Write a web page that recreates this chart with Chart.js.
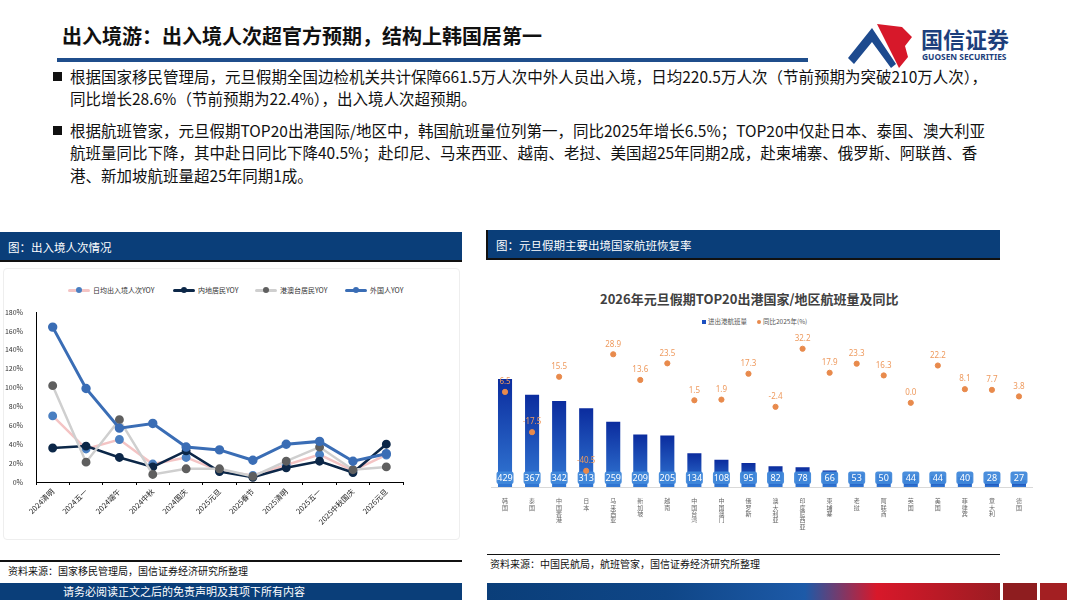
<!DOCTYPE html>
<html>
<head>
<meta charset="utf-8">
<script src="https://cdn.jsdelivr.net/npm/chart.js@4.4.1/dist/chart.umd.min.js"></script>
<style>
  body { margin: 0; background: #fff; }
  #page { position: relative; width: 1067px; height: 600px; overflow: hidden; font-family: "Noto Sans CJK SC", "Noto Sans", sans-serif; color: #111; }
  .abs { position: absolute; white-space: nowrap; }
  .title { left: 62px; top: 23px; font-size: 20px; font-weight: bold; line-height: 26px; }
  .bar-line { left: 57px; top: 58px; width: 751px; height: 4px; background: #1f4e8c; }
  .bullet { font-size: 15.5px; line-height: 22px; }
  .sq { left: 53px; width: 9px; height: 9px; background: #111; }
  .hdr { background: #0a3e79; color: #fff; font-size: 11.5px; line-height: 30px; height: 30px; padding-left: 8px; box-sizing: border-box; border-bottom: 2px solid #111; }
  .src { font-size: 10px; line-height: 14px; color: #111; }
  .lg { font-size: 7px; line-height: 10px; color: #333; display: flex; align-items: center; }
  .lg i { display: inline-block; position: relative; width: 22px; height: 10px; margin-right: 3px; }
  .lg i b { position: absolute; left: 0; right: 0; top: 3.5px; height: 3px; border-radius: 2px; }
  .lg i u { position: absolute; left: 7.5px; top: 2px; width: 6px; height: 6px; border-radius: 50%; }
</style>
</head>
<body>
<div id="page">
  <div class="abs title">出入境游：出入境人次超官方预期，结构上韩国居第一</div>
  <div class="abs bar-line"></div>

  <!-- logo -->
  <svg class="abs" style="left:846px;top:20px" width="70" height="50" viewBox="0 0 70 50">
    <path d="M2,38 L26,8 L50,44 L45,48 L26,22 L8,44 Z" fill="#1d4a8e"/>
    <path d="M31,4 L56,7 L66,17 L59,26 L62,37 L53,48 L36,14 Z" fill="#d7182a"/>
  </svg>
  <div class="abs" style="left:921px;top:24px;font-size:22px;font-weight:bold;color:#1d3f7c;line-height:28px">国信证券</div>
  <div class="abs" style="left:922px;top:52px;font-size:8.4px;font-weight:bold;color:#1d3f7c;line-height:10px;font-family:'Noto Sans',sans-serif">GUOSEN SECURITIES</div>

  <!-- bullets -->
  <div class="abs sq" style="top:72px"></div>
  <div class="abs bullet" style="left:70px;top:65px">根据国家移民管理局，元旦假期全国边检机关共计保障661.5万人次中外人员出入境，日均220.5万人次（节前预期为突破210万人次），</div>
  <div class="abs bullet" style="left:70px;top:87px">同比增长28.6%（节前预期为22.4%），出入境人次超预期。</div>
  <div class="abs sq" style="top:126px"></div>
  <div class="abs bullet" style="left:70px;top:119px">根据航班管家，元旦假期TOP20出港国际/地区中，韩国航班量位列第一，同比2025年增长6.5%；TOP20中仅赴日本、泰国、澳大利亚</div>
  <div class="abs bullet" style="left:70px;top:141px">航班量同比下降，其中赴日同比下降40.5%；赴印尼、马来西亚、越南、老挝、美国超25年同期2成，赴柬埔寨、俄罗斯、阿联酋、香</div>
  <div class="abs bullet" style="left:70px;top:164px">港、新加坡航班量超25年同期1成。</div>

  <!-- panel headers -->
  <div class="abs hdr" style="left:0;top:232px;width:462px">图：出入境人次情况</div>
  <div class="abs hdr" style="left:486px;top:230px;width:514px;border-left:2px solid #111">图：元旦假期主要出境国家航班恢复率</div>

  <!-- left chart -->
  <div class="abs" style="left:3px;top:268px;width:455px;height:270px;border:1px solid #eee;border-radius:4px"></div>
  <div class="abs lg" style="left:68px;top:285px"><i><b style="background:#f4c4c4"></b><u style="background:#4a7fc1"></u></i>日均出入境人次YOY</div>
  <div class="abs lg" style="left:173px;top:285px"><i><b style="background:#0c2748"></b><u style="background:#0c2748"></u></i>内地居民YOY</div>
  <div class="abs lg" style="left:255px;top:285px"><i><b style="background:#cfcfcf"></b><u style="background:#5f5f5f"></u></i>港澳台居民YOY</div>
  <div class="abs lg" style="left:345px;top:285px"><i><b style="background:#3a6db5"></b><u style="background:#3a6db5"></u></i>外国人YOY</div>
  <div class="abs" style="left:0;top:268px;width:462px;height:272px"><canvas id="lineChart"></canvas></div>

  <!-- right chart -->
  <div class="abs" style="left:600px;top:290px;font-size:13px;font-weight:bold;color:#404040;line-height:18px">2026年元旦假期TOP20出港国家/地区航班量及同比</div>
  <div class="abs" style="left:702px;top:317px;font-size:6.5px;color:#555;line-height:9px;display:flex;align-items:center">
    <span style="display:inline-block;width:4px;height:4px;background:#1c4fc0;margin-right:2px"></span>进出港航班量
    <span style="display:inline-block;width:4px;height:4px;border-radius:50%;background:#e88a4c;margin:0 2px 0 10px"></span>同比2025年(%)
  </div>
  <div class="abs" style="left:485px;top:310px;width:555px;height:230px"><canvas id="barChart"></canvas></div>

  <!-- sources -->
  <div class="abs" style="left:0;top:560px;width:462px;height:1.5px;background:#111"></div>
  <div class="abs src" style="left:8px;top:564px">资料来源：国家移民管理局，国信证券经济研究所整理</div>
  <div class="abs" style="left:487px;top:554px;width:513px;height:1px;background:#111"></div>
  <div class="abs src" style="left:490px;top:557px">资料来源：中国民航局，航班管家，国信证券经济研究所整理</div>

  <!-- footer -->
  <div class="abs" style="left:0;top:583px;width:462px;height:17px;background:#0a3e79"></div>
  <div class="abs" style="left:63px;top:583px;font-size:11px;line-height:17px;color:#fff">请务必阅读正文之后的免责声明及其项下所有内容</div>
  <div class="abs" style="left:487px;top:583px;width:513px;height:17px;background:linear-gradient(90deg,#0a3e79 0%,#0f4687 35%,#1d5aa8 62%,#d8182a 76%,#9b1c22 100%)"></div>
  <div class="abs" style="left:1003px;top:583px;width:34px;height:17px;background:#8e1d1f"></div>
  <div class="abs" style="left:1040px;top:583px;width:27px;height:17px;background:#a31f22"></div>
</div>

<script>
// left chart: 出入境人次 YOY
const periods = ["2024清明", "2024五一", "2024端午", "2024中秋", "2024国庆", "2025元旦", "2025春节", "2025清明", "2025五一", "2025中秋国庆", "2026元旦"];
const dailyYoy = [70, 35, 45, 19, 26, 12, 7, 18, 29, 12, 28.6];
const mainlandYoy = [36, 38, 26, 16, 33, 11, 5, 15, 22, 10, 40];
const hmtYoy = [102, 21, 66, 8, 14, 14, 6, 22, 37, 13, 16];
const foreignYoy = [164, 99, 57, 62, 37, 34, 23, 40, 43, 22, 30];
const yoyTicks = [0, 20, 40, 60, 80, 100, 120, 140, 160, 180];

// right chart: TOP20 出港国家/地区
const countries = ["韩国", "泰国", "中国香港", "日本", "马来西亚", "新加坡", "越南", "中国台湾", "中国澳门", "俄罗斯", "澳大利亚", "印度尼西亚", "柬埔寨", "老挝", "阿联酋", "英国", "美国", "菲律宾", "意大利", "德国"];
const flights = [429, 367, 342, 313, 259, 209, 205, 134, 108, 95, 82, 78, 66, 53, 50, 44, 44, 40, 28, 27];
const flightYoy = [6.5, -17.5, 15.5, -40.5, 28.9, 13.6, 23.5, 1.5, 1.9, 17.3, -2.4, 32.2, 17.9, 23.3, 16.3, 0.0, 22.2, 8.1, 7.7, 3.8];

Chart.defaults.font.family = "'Noto Sans CJK SC', 'Noto Sans', sans-serif";
Chart.defaults.animation = false;

function lineSet(label, data, lineColor, dotColor, width, order) {
  return {
    label: label,
    data: data,
    borderColor: lineColor,
    backgroundColor: dotColor,
    pointBackgroundColor: dotColor,
    pointBorderColor: dotColor,
    borderWidth: width,
    pointRadius: 3.2,
    tension: 0,
    order: order
  };
}

new Chart(document.getElementById("lineChart"), {
  type: "line",
  data: {
    labels: periods,
    datasets: [
      lineSet("外国人YOY", foreignYoy, "#3a6db5", "#3a6db5", 3, 1),
      lineSet("港澳台居民YOY", hmtYoy, "#cfcfcf", "#5f5f5f", 2.5, 2),
      lineSet("内地居民YOY", mainlandYoy, "#0c2748", "#0c2748", 2.5, 3),
      lineSet("日均出入境人次YOY", dailyYoy, "#f4c4c4", "#4a7fc1", 2.5, 4)
    ]
  },
  options: {
    responsive: true,
    maintainAspectRatio: false,
    layout: { padding: { left: 0, right: 59, top: 44, bottom: 0 } },
    plugins: { legend: { display: false }, tooltip: { enabled: false } },
    scales: {
      x: {
        offset: true,
        grid: { display: true, drawOnChartArea: false, drawTicks: true, tickLength: 3, offset: true, color: "#000" },
        border: { color: "#000", width: 1 },
        ticks: { color: "#222", font: { size: 7.5 }, minRotation: 45, maxRotation: 45, autoSkip: false, padding: 2 },
        afterFit: (s) => { s.height = 58; }
      },
      y: {
        min: 0,
        max: 180,
        afterBuildTicks: (s) => { s.ticks = yoyTicks.map((v) => ({ value: v })); },
        grid: { display: false },
        border: { color: "#000", width: 1 },
        ticks: { color: "#333", font: { size: 7 }, padding: 5, callback: (v) => v + "%" },
        afterFit: (s) => { s.width = 36; }
      }
    }
  }
});

// bar value boxes and dot labels
const valueLabels = {
  id: "valueLabels",
  afterDatasetDraw(chart, args) {
    const ctx = chart.ctx;
    ctx.save();
    if (args.index === 0) {
      args.meta.data.forEach((bar, i) => {
        const w = 17, h = 12.6;
        const x = bar.x - w / 2, y = bar.base - 3 - h;
        ctx.fillStyle = "rgba(64,136,218,0.95)";
        ctx.beginPath();
        ctx.roundRect(x, y, w, h, 2.5);
        ctx.fill();
        ctx.fillStyle = "#fff";
        ctx.font = "9px 'Noto Sans', sans-serif";
        ctx.textAlign = "center";
        ctx.textBaseline = "middle";
        ctx.fillText(flights[i], bar.x, y + h / 2 + 0.5);
      });
    } else if (args.index === 1) {
      args.meta.data.forEach((pt, i) => {
        ctx.fillStyle = "#ee9a5e";
        ctx.font = "8px 'Noto Sans', sans-serif";
        ctx.textAlign = "center";
        ctx.textBaseline = "middle";
        ctx.fillText(flightYoy[i].toFixed(1), pt.x, pt.y - 10);
      });
    }
    ctx.restore();
  }
};

new Chart(document.getElementById("barChart"), {
  data: {
    labels: countries.map((c) => c.split("")),
    datasets: [
      {
        type: "bar",
        label: "进出港航班量",
        data: flights,
        yAxisID: "y",
        barPercentage: 0.52,
        categoryPercentage: 1,
        order: 2,
        backgroundColor: (c) => {
          const chart = c.chart;
          if (!chart.chartArea || c.type !== "data") return "#1c4fc0";
          const ys = chart.scales.y;
          const top = ys.getPixelForValue(c.raw);
          const bot = ys.getPixelForValue(0);
          const g = chart.ctx.createLinearGradient(0, top, 0, bot);
          g.addColorStop(0, "#0b2c9e");
          g.addColorStop(1, "#3278d4");
          return g;
        }
      },
      {
        type: "line",
        label: "同比2025年(%)",
        data: flightYoy,
        yAxisID: "y2",
        showLine: false,
        pointRadius: 2.6,
        pointBackgroundColor: "#e88a4c",
        pointBorderColor: "#e88a4c",
        order: 1
      }
    ]
  },
  options: {
    responsive: true,
    maintainAspectRatio: false,
    layout: { padding: { left: 6.5, right: 7.5, top: 25, bottom: 0 } },
    plugins: { legend: { display: false }, tooltip: { enabled: false } },
    scales: {
      x: {
        grid: { display: false },
        border: { display: true, color: "#d9d9d9" },
        ticks: { color: "#666", font: { size: 6, lineHeight: 1.05 }, maxRotation: 0, autoSkip: false, padding: 3 },
        afterFit: (s) => { s.height = 53; }
      },
      y: { display: false, min: 0, max: 604 },
      y2: { display: false, min: -50.15, max: 40.38 }
    }
  },
  plugins: [valueLabels]
});
</script>
</body>
</html>
